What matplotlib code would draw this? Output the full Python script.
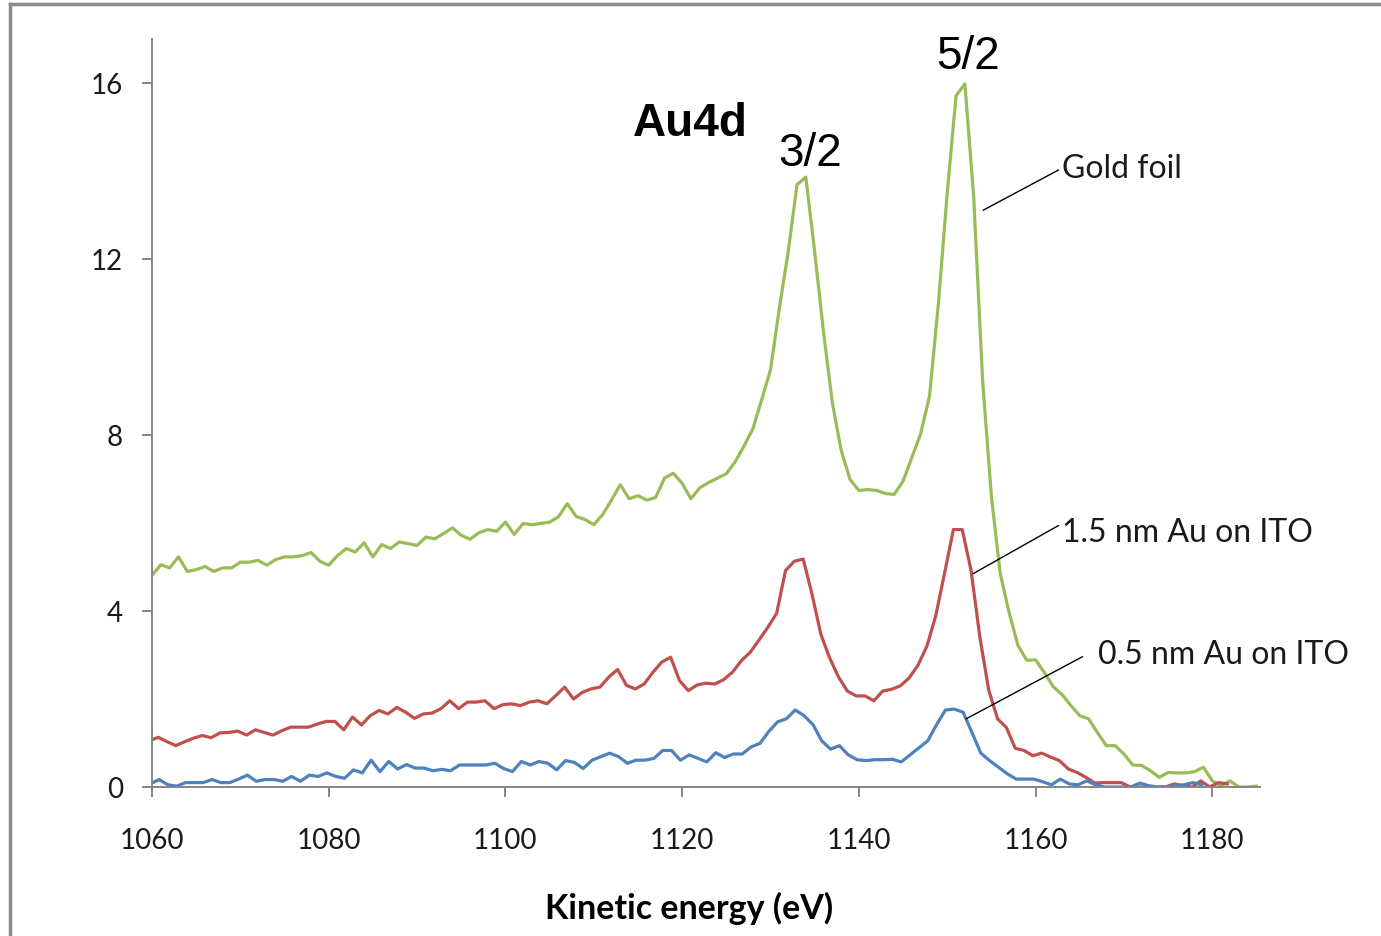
import matplotlib
matplotlib.use("Agg")
import matplotlib.pyplot as plt
from matplotlib.lines import Line2D
import numpy as np

# Au4d spectra, kinetic energy (eV) vs intensity
energy_foil = np.arange(1060, 1186)
gold_foil = [4.81, 5.05, 4.98, 5.23, 4.90, 4.94, 5.01, 4.90, 4.98, 4.98,
             5.11, 5.11, 5.15, 5.04, 5.17, 5.23, 5.23, 5.26, 5.33, 5.13,
             5.04, 5.26, 5.42, 5.34, 5.55, 5.23, 5.51, 5.42, 5.57, 5.53,
             5.49, 5.68, 5.64, 5.76, 5.89, 5.72, 5.63, 5.78, 5.85, 5.81,
             6.02, 5.74, 5.99, 5.96, 5.99, 6.02, 6.14, 6.44, 6.15, 6.08,
             5.96, 6.19, 6.52, 6.87, 6.55, 6.62, 6.52, 6.58, 7.02, 7.13,
             6.90, 6.55, 6.80, 6.92, 7.02, 7.12, 7.39, 7.75, 8.14, 8.80,
             9.48, 10.88, 12.16, 13.69, 13.86, 12.16, 10.34, 8.73, 7.65, 6.99,
             6.74, 6.76, 6.74, 6.67, 6.65, 6.95, 7.49, 8.03, 8.89, 10.98,
             13.50, 15.71, 15.98, 13.40, 9.26, 6.60, 4.85, 3.97, 3.22, 2.88,
             2.89, 2.60, 2.28, 2.10, 1.85, 1.62, 1.55, 1.24, 0.94, 0.94,
             0.75, 0.50, 0.49, 0.37, 0.22, 0.33, 0.32, 0.32, 0.35, 0.45,
             0.14, 0.03, 0.14, 0.00, 0.00, 0.02]

energy_15 = np.arange(1059.7, 1182.0, 1.0)
au_15nm = [1.05, 1.13, 1.03, 0.94, 1.03, 1.11, 1.17, 1.12, 1.23, 1.24,
           1.27, 1.18, 1.30, 1.24, 1.18, 1.28, 1.36, 1.36, 1.36, 1.43,
           1.49, 1.49, 1.30, 1.59, 1.41, 1.62, 1.74, 1.66, 1.81, 1.70,
           1.56, 1.66, 1.68, 1.78, 1.96, 1.78, 1.93, 1.93, 1.96, 1.78,
           1.87, 1.89, 1.85, 1.93, 1.96, 1.89, 2.08, 2.27, 2.00, 2.15,
           2.23, 2.27, 2.50, 2.67, 2.31, 2.23, 2.34, 2.61, 2.84, 2.95,
           2.42, 2.19, 2.32, 2.36, 2.34, 2.44, 2.61, 2.87, 3.06, 3.34,
           3.63, 3.95, 4.92, 5.13, 5.18, 4.38, 3.47, 2.93, 2.50, 2.18,
           2.07, 2.07, 1.96, 2.18, 2.22, 2.30, 2.48, 2.77, 3.20, 3.89,
           4.86, 5.85, 5.85, 4.92, 3.40, 2.20, 1.55, 1.35, 0.88, 0.83,
           0.71, 0.77, 0.68, 0.60, 0.41, 0.33, 0.22, 0.09, 0.10, 0.10,
           0.10, 0.00, 0.00, 0.00, 0.00, 0.00, 0.07, 0.03, 0.00, 0.14,
           0.00, 0.10, 0.07]

energy_05 = np.arange(1059.8, 1179.0, 1.0)
au_05nm = [0.07, 0.17, 0.05, 0.02, 0.10, 0.10, 0.10, 0.17, 0.10, 0.10,
           0.18, 0.27, 0.13, 0.17, 0.17, 0.13, 0.24, 0.13, 0.27, 0.24,
           0.32, 0.24, 0.20, 0.39, 0.32, 0.61, 0.35, 0.58, 0.41, 0.51,
           0.43, 0.43, 0.37, 0.40, 0.37, 0.50, 0.50, 0.50, 0.50, 0.54,
           0.42, 0.35, 0.58, 0.50, 0.58, 0.54, 0.39, 0.60, 0.56, 0.42,
           0.61, 0.69, 0.77, 0.69, 0.54, 0.61, 0.61, 0.65, 0.83, 0.83,
           0.61, 0.73, 0.65, 0.57, 0.78, 0.67, 0.75, 0.75, 0.91, 0.99,
           1.26, 1.48, 1.55, 1.75, 1.62, 1.42, 1.05, 0.86, 0.94, 0.73,
           0.62, 0.60, 0.62, 0.62, 0.63, 0.57, 0.73, 0.89, 1.05, 1.42,
           1.75, 1.77, 1.70, 1.24, 0.77, 0.60, 0.45, 0.30, 0.18, 0.18,
           0.18, 0.12, 0.05, 0.18, 0.07, 0.05, 0.14, 0.05, 0.00, 0.00,
           0.00, 0.00, 0.09, 0.03, 0.00, 0.00, 0.03, 0.05, 0.10, 0.05]

x_ticks = [1060, 1080, 1100, 1120, 1140, 1160, 1180]
y_ticks = [0, 4, 8, 12, 16]

green = '#9BBB59'
red = '#C0504D'
blue = '#4F81BD'
grey = '#868686'
label_font = 'Lato'

fig = plt.figure(figsize=(13.81, 9.37), dpi=100)
ax = fig.add_axes([152 / 1381, 1 - 788 / 937, (1260 - 152) / 1381, (788 - 40) / 937])

ax.plot(energy_foil, gold_foil, color=green, lw=2.3)
ax.plot(energy_15, au_15nm, color=red, lw=2.3)
ax.plot(energy_05, au_05nm, color=blue, lw=2.3)

ax.set_xlim(1060, 1185.4)
ax.set_ylim(0, 17)
ax.set_xticks(x_ticks)
ax.set_yticks(y_ticks)

for s in ['top', 'right']:
    ax.spines[s].set_visible(False)
for s in ['left', 'bottom']:
    ax.spines[s].set_color(grey)
    ax.spines[s].set_linewidth(1.4)
ax.tick_params(direction='out', length=7, width=1.4, color=grey,
               labelsize=20, labelcolor='#1a1a1a')
ax.tick_params(axis='y', pad=14)
ax.tick_params(axis='x', pad=22)
for lab in ax.get_xticklabels() + ax.get_yticklabels():
    lab.set_fontfamily(label_font)

fig.text(689 / 1381, 1 - 908 / 937, 'Kinetic energy (eV)', ha='center', va='center',
         fontsize=24.5, fontweight='bold', family=label_font)

# peak labels
ax.text(1114.45, 15.1, 'Au4d', fontsize=33, fontweight='bold', family='Liberation Sans',
        ha='left', va='center')
ax.text(1134.5, 14.42, '3/2', fontsize=33, family='Liberation Sans', ha='center', va='center')
ax.text(1152.4, 16.62, '5/2', fontsize=33, family='Liberation Sans', ha='center', va='center',
        clip_on=False)

# series labels with leader lines
callouts = [
    ('Gold foil', (1154.08, 13.11), (1162.57, 14.02), (1163.0, 14.06)),
    ('1.5 nm Au on ITO', (1152.95, 4.85), (1162.57, 5.94), (1163.0, 5.80)),
    ('0.5 nm Au on ITO', (1152.15, 1.55), (1165.3, 2.96), (1167.1, 3.03)),
]
for text, p0, p1, tpos in callouts:
    ax.plot([p0[0], p1[0]], [p0[1], p1[1]], color='black', lw=1.0)
    ax.text(tpos[0], tpos[1], text, fontsize=23, family=label_font, ha='left', va='center',
            color='#1a1a1a', clip_on=False)

# outer frame (top and left edges visible)
fig.add_artist(Line2D([10 / 1381, 1.0], [1 - 5 / 937, 1 - 5 / 937], color='#8c8c8c', lw=2.5))
fig.add_artist(Line2D([10 / 1381, 10 / 1381], [0.0, 1 - 5 / 937], color='#8c8c8c', lw=2.5))

fig.savefig('out.png', dpi=100, facecolor='white')
